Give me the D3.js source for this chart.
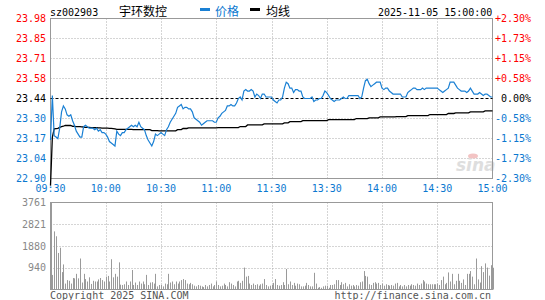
<!DOCTYPE html>
<html><head><meta charset="utf-8">
<script src="https://cdn.jsdelivr.net/npm/d3@7/dist/d3.min.js"></script>
<style>
html,body{margin:0;padding:0;background:#fff;}
svg{display:block;}
text{font-family:"DejaVu Sans Mono","Liberation Mono",monospace;font-size:10px;}
</style></head><body>
<svg id="c" width="545" height="300"></svg>
<script>
const stockCode = "sz002903";
const stockName = "宇环数控";
const legendLabels = ["价格", "均线"];
const dateTime = "2025-11-05 15:00:00";
const preClose = 23.44;
const pctRange = 0.023;
const timeLabels = ["09:30","10:00","10:30","11:00","11:30","13:30","14:00","14:30","15:00"];
const priceTickLabels = ["23.98","23.85","23.71","23.58","23.44","23.30","23.17","23.04","22.90"];
const pctTickLabels = ["+2.30%","+1.73%","+1.15%","+0.58%","0.00%","-0.58%","-1.15%","-1.73%","-2.30%"];
const volTickLabels = ["3761","2821","1880","940"];
const volMax = 3761;
const copyrightLeft = "Copyright 2025 SINA.COM";
const copyrightRight = "http://finance.sina.com.cn";

const prices = [
23.16,23.46,23.19,23.18,23.17,23.24,23.35,23.39,23.37,23.33,
23.32,23.33,23.29,23.26,23.22,23.20,23.18,23.18,23.25,23.26,
23.25,23.24,23.24,23.24,23.23,23.24,23.22,23.23,23.21,23.21,
23.20,23.18,23.15,23.14,23.13,23.12,23.22,23.20,23.19,23.21,
23.21,23.23,23.24,23.25,23.26,23.25,23.26,23.25,23.28,23.25,
23.24,23.23,23.19,23.16,23.14,23.12,23.15,23.20,23.19,23.20,
23.21,23.20,23.19,23.23,23.25,23.28,23.30,23.32,23.34,23.38,
23.39,23.40,23.37,23.38,23.38,23.37,23.37,23.35,23.31,23.30,
23.29,23.28,23.26,23.27,23.28,23.29,23.29,23.29,23.29,23.28,
23.28,23.31,23.32,23.34,23.35,23.36,23.39,23.39,23.40,23.39,
23.39,23.41,23.44,23.45,23.43,23.49,23.50,23.49,23.49,23.50,
23.49,23.45,23.47,23.46,23.44,23.47,23.47,23.45,23.45,23.45,
23.45,23.43,23.42,23.41,23.43,23.43,23.45,23.51,23.55,23.54,
23.51,23.51,23.48,23.50,23.50,23.49,23.49,23.45,23.44,23.44,
23.44,23.44,23.45,23.42,23.43,23.43,23.44,23.44,23.46,23.49,
23.48,23.46,23.44,23.43,23.42,23.43,23.43,23.43,23.44,23.45,
23.44,23.44,23.46,23.46,23.46,23.46,23.46,23.46,23.44,23.45,
23.51,23.56,23.57,23.54,23.52,23.53,23.54,23.55,23.55,23.55,
23.51,23.50,23.51,23.51,23.49,23.48,23.47,23.47,23.47,23.47,
23.47,23.45,23.45,23.45,23.48,23.49,23.50,23.51,23.51,23.50,
23.50,23.50,23.51,23.50,23.51,23.51,23.51,23.51,23.51,23.51,
23.51,23.50,23.49,23.48,23.49,23.50,23.51,23.55,23.55,23.55,
23.53,23.51,23.50,23.49,23.49,23.49,23.48,23.49,23.51,23.49,
23.47,23.47,23.47,23.48,23.47,23.46,23.47,23.47,23.46,23.45,
23.45
];

const avgPrices = [
22.853,23.179,23.235,23.237,23.239,23.245,23.250,23.253,23.258,23.258,
23.258,23.258,23.253,23.252,23.251,23.251,23.250,23.249,23.248,23.246,
23.245,23.245,23.244,23.244,23.243,23.243,23.242,23.242,23.241,23.241,
23.240,23.240,23.239,23.238,23.237,23.235,23.232,23.232,23.232,23.232,
23.232,23.232,23.232,23.232,23.232,23.230,23.230,23.230,23.230,23.230,
23.230,23.230,23.230,23.230,23.230,23.224,23.224,23.224,23.224,23.222,
23.222,23.222,23.222,23.222,23.222,23.222,23.222,23.222,23.222,23.230,
23.230,23.230,23.238,23.238,23.238,23.242,23.242,23.242,23.242,23.242,
23.242,23.242,23.242,23.242,23.242,23.242,23.242,23.242,23.242,23.242,
23.242,23.244,23.244,23.244,23.244,23.244,23.244,23.244,23.244,23.244,
23.244,23.244,23.244,23.251,23.251,23.251,23.251,23.262,23.262,23.262,
23.262,23.262,23.262,23.262,23.262,23.262,23.269,23.269,23.269,23.269,
23.269,23.269,23.269,23.269,23.269,23.269,23.269,23.276,23.276,23.276,
23.284,23.284,23.284,23.284,23.284,23.284,23.284,23.291,23.291,23.291,
23.291,23.291,23.291,23.291,23.291,23.291,23.291,23.291,23.291,23.291,
23.291,23.298,23.298,23.298,23.298,23.298,23.298,23.298,23.298,23.298,
23.298,23.298,23.298,23.298,23.298,23.298,23.305,23.305,23.305,23.305,
23.305,23.305,23.305,23.310,23.310,23.310,23.310,23.310,23.310,23.316,
23.316,23.316,23.316,23.316,23.316,23.316,23.316,23.316,23.318,23.318,
23.318,23.318,23.318,23.318,23.325,23.325,23.325,23.325,23.325,23.325,
23.325,23.325,23.325,23.325,23.325,23.325,23.332,23.332,23.332,23.332,
23.332,23.332,23.332,23.332,23.332,23.332,23.339,23.339,23.339,23.339,
23.343,23.343,23.343,23.343,23.343,23.343,23.343,23.343,23.350,23.350,
23.350,23.350,23.350,23.350,23.350,23.350,23.356,23.356,23.356,23.356,
23.356
];

const volumes = [
3761,630,2512,2301,1579,1805,752,1083,256,406,376,256,496,481,677,481,1339,301,677,451,346,526,241,376,346,346,436,496,406,346,556,587,
346,1308,526,677,556,1173,210,195,226,346,195,346,842,195,301,195,346,256,346,226,632,195,301,316,256,677,135,195,195,135,256,226,677,301,346,226,346,256,346,406,451,406,256,226,286,226,165,135,195,165,135,105,195,135,195,256,135,195,346,195,135,165,256,195,135,316,256,195,135,346,376,286,376,948,556,587,
256,195,256,195,226,165,226,256,451,195,135,165,195,286,451,195,165,195,316,195,
887,
226,346,195,286,165,256,226,135,135,165,286,195,135,135,722,256,75,105,75,135,165,165,75,195,195,226,406,406,195,316,226,286,135,226,165,195,135,195,165,316,346,
797,
587,556,226,195,286,316,256,286,195,256,165,226,195,165,195,165,256,286,135,195,135,195,135,195,165,226,195,165,256,195,256,406,346,256,226,226,226,226,226,256,195,406,556,226,286,
737,
346,677,226,376,677,376,286,436,195,677,677,797,556,226,1339,436,301,1008,752,1128,948,
600,1050,940
];

const C = {
  red: "#ff0000", blue: "#0b78d0", line: "#1a80d4", black: "#000",
  grid: "#aaaaaa", border: "#999999", vol: "#9a9a9a", volText: "#888888", copy: "#555555"
};

const svg = d3.select("#c");
const L = 50.5, R = 492.5, T = 18.5, B = 178.5;
const VT = 202.5, VB = 289.5;
const nMin = 240;

const x = d3.scaleLinear().domain([0, nMin]).range([L, R]);
const y = d3.scaleLinear().domain([preClose * (1 - pctRange), preClose * (1 + pctRange)]).range([B, T]);
const vy = d3.scaleLinear().domain([0, volMax]).range([VB, VT]);

const tickCount = priceTickLabels.length;
const tickPct = d3.range(tickCount).map(k => pctRange - k * (2 * pctRange) / (tickCount - 1));
const tickY = tickPct.map(p => y(preClose * (1 + p)));
const colorFor = k => k < 4 ? C.red : (k === 4 ? C.black : C.blue);

// header
const hb = 15.5;
svg.append("text").attr("x", 50).attr("y", hb).text(stockCode);
svg.append("text").attr("x", 119).attr("y", 16).style("font-family", "'Noto Sans CJK SC'").style("font-size", "12px").text(stockName);
svg.append("rect").attr("x", 200).attr("y", 8).attr("width", 10).attr("height", 3).attr("fill", C.line);
svg.append("text").attr("x", 215).attr("y", 16).attr("fill", C.blue).style("font-family", "'Noto Sans CJK SC'").style("font-size", "12px").text(legendLabels[0]);
svg.append("rect").attr("x", 250).attr("y", 8).attr("width", 10).attr("height", 3).attr("fill", C.black);
svg.append("text").attr("x", 266).attr("y", 16).style("font-family", "'Noto Sans CJK SC'").style("font-size", "12px").text(legendLabels[1]);
svg.append("text").attr("x", 378).attr("y", hb).text(dateTime);

// main grid
const vGridIdx = d3.range(30, nMin, 30);
const g = svg.append("g");
tickY.forEach((ty, k) => {
  if (k === 0 || k === tickCount - 1 || k === 4) return;
  g.append("line").attr("x1", L).attr("x2", R).attr("y1", ty).attr("y2", ty)
    .attr("stroke", C.grid).attr("stroke-dasharray", "1,2");
});
vGridIdx.forEach(i => {
  const gx = Math.round(x(i)) + 0.5;
  g.append("line").attr("x1", gx).attr("x2", gx).attr("y1", T).attr("y2", B)
    .attr("stroke", C.grid).attr("stroke-dasharray", "1,2");
  g.append("line").attr("x1", gx).attr("x2", gx).attr("y1", VT).attr("y2", VB)
    .attr("stroke", C.grid).attr("stroke-dasharray", "1,2");
});
// volume horizontal grid
[1, 2, 3].forEach(k => {
  const vyv = Math.round(vy(volMax * (4 - k) / 4)) + 0.5;
  g.append("line").attr("x1", L).attr("x2", R).attr("y1", vyv).attr("y2", vyv)
    .attr("stroke", C.grid).attr("stroke-dasharray", "1,2");
});

// watermark
const wm = svg.append("g").attr("transform", "translate(456,171)");
wm.append("text").attr("x", 0).attr("y", 0).text("sina")
  .style("font-family", "'DejaVu Sans'").style("font-size", "17px").style("font-style", "italic").style("font-weight", "bold")
  .attr("fill", "#dedede");
wm.append("ellipse").attr("cx", 17).attr("cy", -15).attr("rx", 5).attr("ry", 2.5).attr("fill", "#f3c4c4");

// borders
svg.append("rect").attr("x", L).attr("y", T).attr("width", R - L).attr("height", B - T)
  .attr("fill", "none").attr("stroke", C.border);
svg.append("rect").attr("x", L).attr("y", VT).attr("width", R - L).attr("height", VB - VT)
  .attr("fill", "none").attr("stroke", C.border);

// preclose dashed line
const pcY = Math.round(y(preClose)) + 0.5;
svg.append("line").attr("x1", L).attr("x2", R).attr("y1", pcY).attr("y2", pcY)
  .attr("stroke", C.black).attr("stroke-dasharray", "3,2");

// volume bars
svg.append("g").selectAll("line").data(volumes).join("line")
  .attr("x1", (d, i) => Math.round(x(i)) + 0.5).attr("x2", (d, i) => Math.round(x(i)) + 0.5)
  .attr("y1", VB).attr("y2", d => vy(d))
  .attr("stroke", C.vol).attr("stroke-width", 1);

// avg line
svg.append("path").datum(avgPrices)
  .attr("d", d3.line().x((d, i) => x(i)).y(d => y(d)))
  .attr("fill", "none").attr("stroke", C.black).attr("stroke-width", 1.3);

// price line
svg.append("path").datum(prices)
  .attr("d", d3.line().x((d, i) => x(i)).y(d => y(d)))
  .attr("fill", "none").attr("stroke", C.line).attr("stroke-width", 1.2);

// left / right labels
priceTickLabels.forEach((t, k) => {
  svg.append("text").attr("x", 46).attr("y", tickY[k] + 3.5).attr("text-anchor", "end")
    .attr("fill", colorFor(k)).text(t);
});
pctTickLabels.forEach((t, k) => {
  svg.append("text").attr("x", 531).attr("y", tickY[k] + 3.5).attr("text-anchor", "end")
    .attr("fill", colorFor(k)).text(t);
});

// time labels
timeLabels.forEach((t, k) => {
  svg.append("text").attr("x", x(k * 30)).attr("y", 192).attr("text-anchor", "middle")
    .attr("fill", C.blue).text(t);
});

// volume labels
volTickLabels.forEach((t, k) => {
  svg.append("text").attr("x", 46).attr("y", vy(volMax * (4 - k) / 4) + 3.5).attr("text-anchor", "end")
    .attr("fill", C.volText).text(t);
});

// copyright
svg.append("text").attr("x", 50).attr("y", 299).attr("fill", C.copy).text(copyrightLeft);
svg.append("text").attr("x", 491).attr("y", 299).attr("text-anchor", "end").attr("fill", C.copy).text(copyrightRight);
</script>
</body></html>
